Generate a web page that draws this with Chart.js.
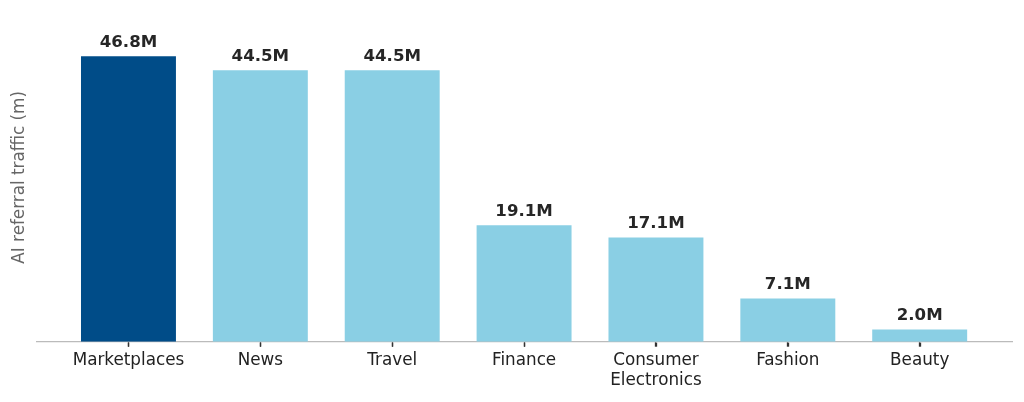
<!DOCTYPE html>
<html>
<head>
<meta charset="utf-8">
<script src="https://cdn.jsdelivr.net/npm/chart.js@4/dist/chart.umd.min.js"></script>
<style>
  html, body { margin: 0; padding: 0; background: #fff; }
  #wrap { width: 1024px; height: 402px; }
</style>
</head>
<body>
<div id="wrap"><canvas id="chart"></canvas></div>
<script>
// AI referral traffic by sector (millions)
const categories = ['Marketplaces', 'News', 'Travel', 'Finance', 'Consumer Electronics', 'Fashion', 'Beauty'];
const tickLabels = ['Marketplaces', 'News', 'Travel', 'Finance', ['Consumer', 'Electronics'], 'Fashion', 'Beauty'];
const traffic = [46.8, 44.5, 44.5, 19.1, 17.1, 7.1, 2.0];
const valueLabels = ['46.8M', '44.5M', '44.5M', '19.1M', '17.1M', '7.1M', '2.0M'];

const DARK = '#004c88';
const LIGHT = '#8acfe4';

// labels above each bar
const barLabels = {
  id: 'barLabels',
  afterDatasetsDraw(chart) {
    const ctx = chart.ctx;
    const meta = chart.getDatasetMeta(0);
    ctx.save();
    ctx.font = 'bold 16.6px "DejaVu Sans"';
    ctx.fillStyle = '#262626';
    ctx.textAlign = 'center';
    ctx.textBaseline = 'bottom';
    meta.data.forEach((bar, i) => {
      ctx.fillText(valueLabels[i], bar.x, bar.y - 5);
    });
    ctx.restore();
  }
};

// short tick marks under the baseline
const tickMarks = {
  id: 'tickMarks',
  afterDraw(chart) {
    const ctx = chart.ctx;
    const xScale = chart.scales.x;
    const y0 = chart.chartArea.bottom;
    ctx.save();
    ctx.strokeStyle = '#333';
    ctx.lineWidth = 1.3;
    xScale.ticks.forEach((t, i) => {
      const x = Math.round(xScale.getPixelForTick(i)) + 0.5;
      ctx.beginPath();
      ctx.moveTo(x, y0 + 1);
      ctx.lineTo(x, y0 + 5);
      ctx.stroke();
    });
    ctx.restore();
  }
};

new Chart(document.getElementById('chart'), {
  type: 'bar',
  data: {
    datasets: [{
      label: 'AI referral traffic',
      data: traffic.map((v, i) => ({ x: i, y: v })),
      backgroundColor: traffic.map((v, i) => i === 0 ? DARK : LIGHT),
      borderWidth: 0,
      barPercentage: 0.72,
      categoryPercentage: 1
    }]
  },
  options: {
    responsive: true,
    maintainAspectRatio: false,
    animation: false,
    layout: {
      padding: { top: 13, right: 12, bottom: 7, left: 0 }
    },
    plugins: {
      legend: { display: false },
      tooltip: { enabled: false }
    },
    scales: {
      x: {
        type: 'linear',
        min: -0.7,
        max: 6.7,
        offset: false,
        afterBuildTicks: (scale) => {
          scale.ticks = categories.map((c, i) => ({ value: i }));
        },
        ticks: {
          autoSkip: false,
          maxRotation: 0,
          padding: 4,
          color: '#222',
          font: { family: 'DejaVu Sans', size: 16.8 },
          callback: (value) => tickLabels[value]
        },
        grid: {
          offset: false,
          drawOnChartArea: false,
          drawTicks: true,
          tickLength: 5,
          tickColor: '#333',
          tickWidth: 1.3,
          color: '#333'
        },
        border: { display: true, color: '#bbbbbb', width: 1.2 }
      },
      y: {
        min: 0,
        max: 53.9,
        ticks: { display: false },
        grid: { display: false, drawTicks: false },
        border: { display: false },
        title: {
          display: true,
          text: 'AI referral traffic (m)',
          color: '#666',
          font: { family: 'DejaVu Sans', size: 16.8 },
          padding: { top: 10, bottom: 6 }
        }
      }
    }
  },
  plugins: [barLabels, tickMarks]
});
</script>
</body>
</html>
